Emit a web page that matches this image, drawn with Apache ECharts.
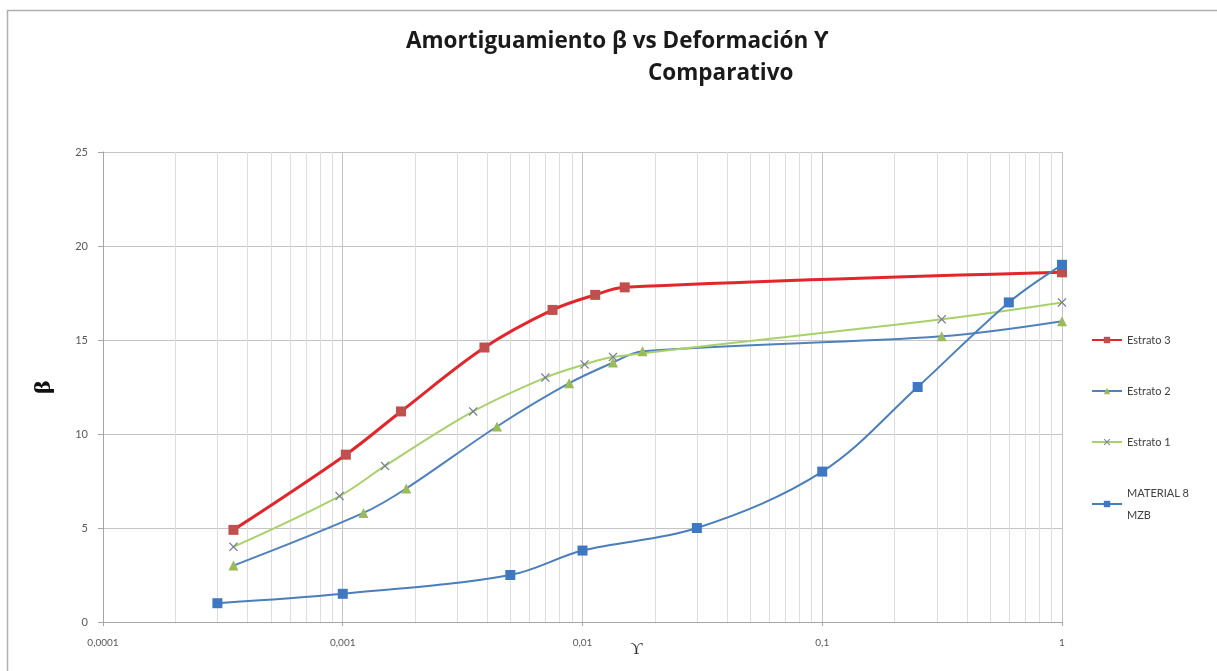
<!DOCTYPE html>
<html>
<head>
<meta charset="utf-8">
<script src="https://cdn.jsdelivr.net/npm/echarts@6/dist/echarts.min.js"></script>
<style>
html,body{margin:0;padding:0;background:#fff;}
#chart{width:1217px;height:671px;}
</style>
</head>
<body>
<div id="chart"></div>
<script>
// ---- data ----
var seriesNames = ['Estrato 3', 'Estrato 2', 'Estrato 1', 'MATERIAL 8 MZB'];
var estrato3X = [0.00035, 0.00103, 0.00175, 0.0039, 0.0075, 0.0113, 0.015, 1];
var estrato3Y = [4.9, 8.9, 11.2, 14.6, 16.6, 17.4, 17.8, 18.6];
var estrato2X = [0.00035, 0.00122, 0.00184, 0.0044, 0.0088, 0.0134, 0.0178, 0.315, 1];
var estrato2Y = [3.0, 5.8, 7.1, 10.4, 12.7, 13.8, 14.4, 15.2, 16.0];
var estrato1X = [0.00035, 0.00097, 0.0015, 0.0035, 0.007, 0.0102, 0.0134, 0.315, 1];
var estrato1Y = [4.0, 6.7, 8.3, 11.2, 13.0, 13.7, 14.1, 16.1, 17.0];
var mzbX = [0.0003, 0.001, 0.005, 0.01, 0.03, 0.1, 0.25, 0.6, 1];
var mzbY = [1.0, 1.5, 2.5, 3.8, 5.0, 8.0, 12.5, 17.0, 19.0];
var xTickValues = [0.0001, 0.001, 0.01, 0.1, 1];
var xTickLabels = ['0,0001', '0,001', '0,01', '0,1', '1'];
var yTicks = [0, 5, 10, 15, 20, 25];

function pairs(xs, ys) { return xs.map(function (x, i) { return [x, ys[i]]; }); }

// minor log grid positions (2..9 within each decade)
var minorGrid = [];
for (var d = 0; d < xTickValues.length - 1; d++) {
  for (var m = 2; m <= 9; m++) minorGrid.push(+(xTickValues[d] * m).toPrecision(6));
}

var crossPath = 'path://M1,0 L5,4 L9,0 L10,1 L6,5 L10,9 L9,10 L5,6 L1,10 L0,9 L4,5 L0,1 Z';
var titleStyle = { fontFamily: 'Open Sans', fontWeight: 'bold', fontSize: 22.5, color: '#1a1a1a' };

var chart = echarts.init(document.getElementById('chart'));
chart.setOption({
  backgroundColor: '#fff',
  animation: false,
  graphic: [{
    type: 'rect', left: 5, top: 8, silent: true,
    shape: { width: 1300, height: 720 },
    style: { fill: 'none', stroke: '#b0b0b0', lineWidth: 1.5 }
  }],
  title: [
    { text: 'Amortiguamiento β vs Deformación ϒ', left: 401, top: 25, textStyle: titleStyle },
    { text: 'Comparativo', left: 643, top: 57, textStyle: titleStyle }
  ],
  grid: { left: 103, right: 155, top: 152, bottom: 49, containLabel: false, outerBoundsMode: 'none' },
  legend: {
    data: seriesNames,
    orient: 'vertical', left: 1086, top: 324,
    itemWidth: 30, itemHeight: 8, itemGap: 29,
    textStyle: { fontFamily: 'Lato', fontSize: 11, color: '#404040', lineHeight: 22 },
    formatter: function (n) { return n === 'MATERIAL 8 MZB' ? 'MATERIAL 8\nMZB' : n; }
  },
  xAxis: {
    type: 'log', logBase: 10, min: 0.0001, max: 1,
    name: 'ϒ', nameLocation: 'middle', nameGap: 19, nameMoveOverlap: false,
    nameTextStyle: { fontFamily: 'Liberation Serif', fontSize: 17, color: '#333', padding: [0, 0, 0, 108] },
    axisLine: { show: true, lineStyle: { color: '#a6a6a6' } },
    axisTick: { show: true, length: 4, lineStyle: { color: '#a6a6a6' } },
    axisLabel: {
      fontFamily: 'Lato', fontSize: 10, color: '#595959', margin: 16,
      formatter: function (v) {
        var i = xTickValues.findIndex(function (t) { return Math.abs(Math.log10(t) - Math.log10(v)) < 1e-6; });
        return i >= 0 ? xTickLabels[i] : '';
      }
    },
    splitLine: { show: true, lineStyle: { color: '#c4c4c4', width: 1 } }
  },
  yAxis: {
    type: 'value', min: 0, max: 25, interval: 5,
    name: 'β', nameLocation: 'middle', nameGap: 48, nameRotate: 90, nameMoveOverlap: false,
    nameTextStyle: { fontFamily: 'DejaVu Serif', fontWeight: 'bold', fontSize: 21, color: '#111' },
    axisLine: { show: true, lineStyle: { color: '#a6a6a6' } },
    axisTick: { show: true, length: 5, lineStyle: { color: '#a6a6a6' } },
    axisLabel: {
      fontFamily: 'Lato', fontSize: 11, color: '#595959', margin: 15,
      formatter: function (v) { return yTicks.indexOf(v) >= 0 ? String(v) : ''; }
    },
    splitLine: { show: true, lineStyle: { color: '#c4c4c4', width: 1 } }
  },
  series: [
    {
      name: 'minorgrid', type: 'custom', z: 1, silent: true,
      data: minorGrid.map(function (v) { return [v, 0]; }),
      encode: { x: 0, y: 1 },
      renderItem: function (params, api) {
        var x = api.value(0);
        var p1 = api.coord([x, 0]);
        var p2 = api.coord([x, 25]);
        var px = Math.round(p1[0]) + 0.5;
        return {
          type: 'line', silent: true,
          shape: { x1: px, y1: p1[1], x2: px, y2: p2[1] },
          style: { stroke: '#dedede', lineWidth: 1 }
        };
      }
    },
    {
      name: 'Estrato 3', type: 'line', smooth: 0.35, z: 3,
      data: pairs(estrato3X, estrato3Y),
      symbol: 'rect', symbolSize: 10,
      lineStyle: { color: '#E3262B', width: 3 },
      itemStyle: { color: '#C0504D' }
    },
    {
      name: 'Estrato 2', type: 'line', smooth: 0.35, z: 3,
      data: pairs(estrato2X, estrato2Y),
      symbol: 'triangle', symbolSize: 10,
      lineStyle: { color: '#4F81BD', width: 2 },
      itemStyle: { color: '#9BBB59' }
    },
    {
      name: 'Estrato 1', type: 'line', smooth: 0.35, z: 3,
      data: pairs(estrato1X, estrato1Y),
      symbol: crossPath, symbolSize: 9,
      lineStyle: { color: '#A9D16B', width: 2 },
      itemStyle: { color: '#7A7E96' }
    },
    {
      name: 'MATERIAL 8 MZB', type: 'line', smooth: 0.35, z: 4,
      data: pairs(mzbX, mzbY),
      symbol: 'rect', symbolSize: 10,
      lineStyle: { color: '#4A7EBB', width: 2 },
      itemStyle: { color: '#3F78C2' }
    }
  ]
});
</script>
</body>
</html>
